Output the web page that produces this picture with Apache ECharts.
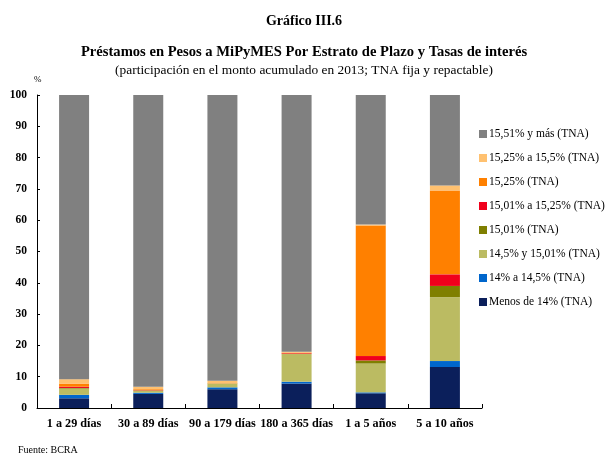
<!DOCTYPE html>
<html>
<head>
<meta charset="utf-8">
<script src="https://cdn.jsdelivr.net/npm/echarts@6/dist/echarts.min.js"></script>
<style>
  html, body { margin: 0; padding: 0; background: #fff; }
  #chart { width: 608px; height: 457px; }
</style>
</head>
<body>
<div id="chart"></div>
<script>
// Plazo categories
const categories = ['1 a 29 días', '30 a 89 días', '90 a 179 días', '180 a 365 días', '1 a 5 años', '5 a 10 años'];

// Participación (%) por tramo de tasa, de abajo hacia arriba
const menos14      = [3.1, 4.5, 6.0, 7.8, 4.7, 13.1];
const de14a145     = [1.1, 0.4, 0.6, 0.6, 0.3, 1.9];
const de145a1501   = [2.0, 0.6, 1.1, 8.8, 9.2, 20.4];
const tasa1501     = [0.2, 0.1, 0.1, 0.1, 1.0, 3.6];
const de1501a1525  = [0.4, 0.1, 0.0, 0.2, 1.4, 3.7];
const tasa1525     = [1.0, 0.3, 0.1, 0.2, 41.7, 26.8];
const de1525a155   = [1.4, 0.8, 0.8, 0.3, 0.3, 1.6];
const desde1551    = [90.8, 93.2, 91.3, 82.0, 41.4, 28.9];

const yTicks = [0, 10, 20, 30, 40, 50, 60, 70, 80, 90, 100];

const seriesDefs = [
  { name: 'Menos de 14% (TNA)', data: menos14, color: '#0B1F5B' },
  { name: '14% a 14,5% (TNA)', data: de14a145, color: '#0066CC' },
  { name: '14,5% y 15,01% (TNA)', data: de145a1501, color: '#BBBB62' },
  { name: '15,01% (TNA)', data: tasa1501, color: '#7F7F00' },
  { name: '15,01% a 15,25% (TNA)', data: de1501a1525, color: '#F0001C' },
  { name: '15,25% (TNA)', data: tasa1525, color: '#FF8000' },
  { name: '15,25% a 15,5% (TNA)', data: de1525a155, color: '#FFC170' },
  { name: '15,51% y más (TNA)', data: desde1551, color: '#808080' }
];

const serif = '"Liberation Serif", "DejaVu Serif", serif';

const chart = echarts.init(document.getElementById('chart'), null, { renderer: 'canvas' });

chart.setOption({
  animation: false,
  backgroundColor: '#ffffff',
  title: [
    { text: 'Gráfico III.6', left: 'center', top: 9,
      textStyle: { fontFamily: serif, fontSize: 14, fontWeight: 'bold', color: '#000' } },
    { text: 'Préstamos en Pesos a MiPyMES Por Estrato de Plazo y Tasas de interés', left: 'center', top: 40,
      textStyle: { fontFamily: serif, fontSize: 14.6, fontWeight: 'bold', color: '#000' } },
    { text: '(participación en el monto acumulado en 2013; TNA fija y repactable)', left: 'center', top: 59,
      textStyle: { fontFamily: serif, fontSize: 13.4, fontWeight: 'normal', color: '#000' } },
    { text: '%', left: 29, top: 70,
      textStyle: { fontFamily: serif, fontSize: 9, fontWeight: 'normal', color: '#000' } },
    { text: 'Fuente: BCRA', left: 13, top: 440,
      textStyle: { fontFamily: serif, fontSize: 10, fontWeight: 'normal', color: '#000', lineHeight: 11 } }
  ],
  legend: {
    orient: 'vertical',
    left: 474,
    top: 123,
    itemWidth: 8,
    itemHeight: 8,
    itemGap: 12,
    icon: 'rect',
    textStyle: { fontFamily: serif, fontSize: 11.5, color: '#000', padding: [0, 0, 0, -3] },
    data: seriesDefs.map(s => s.name).reverse()
  },
  grid: { left: 37, right: 126, top: 95, bottom: 49, containLabel: false },
  xAxis: {
    type: 'category',
    data: categories,
    axisLine: { show: true, lineStyle: { color: '#000', width: 1 } },
    axisTick: { show: true, inside: true, length: 4, alignWithLabel: false, lineStyle: { color: '#000' } },
    axisLabel: { fontFamily: serif, fontSize: 12.2, fontWeight: 'bold', color: '#000', margin: 10, interval: 0 },
    splitLine: { show: false }
  },
  yAxis: {
    type: 'value',
    min: yTicks[0],
    max: yTicks[yTicks.length - 1],
    interval: 10,
    axisLine: { show: true, lineStyle: { color: '#000', width: 1 } },
    axisTick: { show: true, inside: true, length: 3, lineStyle: { color: '#000' } },
    axisLabel: { fontFamily: serif, fontSize: 11.5, fontWeight: 'bold', color: '#000', margin: 10 },
    splitLine: { show: false }
  },
  series: seriesDefs.map(s => ({
    name: s.name,
    type: 'bar',
    stack: 'total',
    barWidth: 30,
    data: s.data,
    itemStyle: { color: s.color },
    emphasis: { disabled: true }
  }))
});
</script>
</body>
</html>
